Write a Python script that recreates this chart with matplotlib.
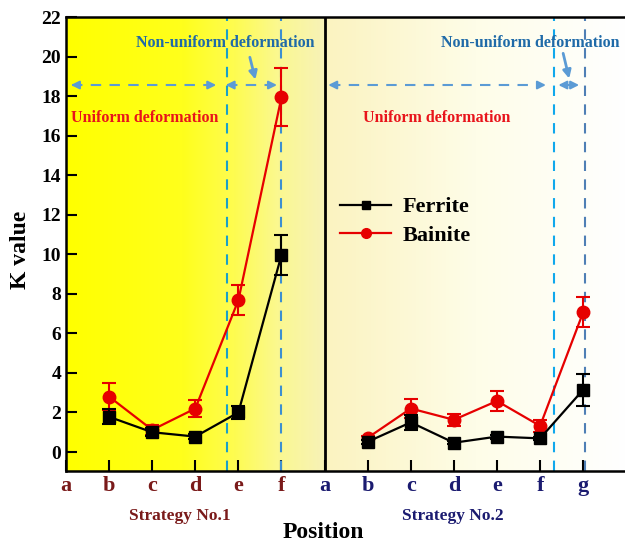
import numpy as np
import matplotlib
matplotlib.use('Agg')
import matplotlib.pyplot as plt
from matplotlib.colors import LinearSegmentedColormap
from matplotlib.lines import Line2D

plt.rcParams['font.family'] = ['Liberation Serif', 'DejaVu Serif']
plt.rcParams['font.weight'] = 'bold'

# data
tick_labels = ['a', 'b', 'c', 'd', 'e', 'f', 'a', 'b', 'c', 'd', 'e', 'f', 'g']
x1 = [1, 2, 3, 4, 5]
x2 = [7, 8, 9, 10, 11, 12]
ferrite1 = [1.78, 1.0, 0.78, 2.0, 9.97]
ferrite1_err = [0.38, 0.2, 0.12, 0.35, 1.0]
bainite1 = [2.8, 1.12, 2.2, 7.68, 17.95]
bainite1_err = [0.68, 0.25, 0.42, 0.77, 1.45]
ferrite2 = [0.52, 1.5, 0.47, 0.78, 0.69, 3.15]
ferrite2_err = [0.1, 0.38, 0.08, 0.1, 0.08, 0.8]
bainite2 = [0.72, 2.2, 1.63, 2.58, 1.32, 7.07]
bainite2_err = [0.1, 0.5, 0.3, 0.52, 0.3, 0.75]

fig = plt.figure(figsize=(6.25, 5.45), dpi=100)
ax = fig.add_axes([66/625, 74/545, 559/625, 454/545])

# background gradients
cm1 = LinearSegmentedColormap.from_list('g1', [(0, '#ffff00'), (0.45, '#ffff1c'), (0.65, '#fefc50'),
                                               (0.82, '#fbf890'), (1, '#f7f2b8')])
cm2 = LinearSegmentedColormap.from_list('g2', [(0, '#fbf3c0'), (0.5, '#fefde8'), (1, '#ffffff')])
grad = np.linspace(0, 1, 256).reshape(1, -1)
ax.imshow(grad, cmap=cm1, extent=[0, 6, -0.96, 22], aspect='auto', zorder=0)
ax.imshow(grad, cmap=cm2, extent=[6, 12.97, -0.96, 22], aspect='auto', zorder=0)
ax.set_xlim(0, 12.97)
ax.set_ylim(-0.96, 22)

# divider
ax.axvline(6, color='black', lw=2, zorder=3)

# vertical dashed lines
ax.axvline(3.73, color='#1aa0c8', lw=1.5, ls=(0, (5, 4)), zorder=2)
ax.axvline(5.0, color='#3d8fd0', lw=1.5, ls=(0, (5, 4)), zorder=2)
ax.axvline(11.32, color='#10a8ec', lw=1.5, ls=(0, (5, 4)), zorder=2)
ax.axvline(12.05, color='#4f7fb5', lw=1.5, ls=(0, (5, 4)), zorder=2)

# horizontal double arrows
arrow_c = '#5b9bd5'
ya = 18.56
for xa, xb in [(0.05, 3.55), (3.64, 4.96), (6.02, 11.2), (11.36, 11.97)]:
    ax.plot([xa + 0.1, xb - 0.1], [ya, ya], color=arrow_c, lw=1.5, ls=(0, (5, 4)), zorder=2)
    ax.annotate('', xy=(xa, ya), xytext=(xa + 0.25, ya),
                arrowprops=dict(arrowstyle='-|>', color=arrow_c, lw=1.5, mutation_scale=12), zorder=2)
    ax.annotate('', xy=(xb, ya), xytext=(xb - 0.25, ya),
                arrowprops=dict(arrowstyle='-|>', color=arrow_c, lw=1.5, mutation_scale=12), zorder=2)

# pointer arrows
ax.annotate('', xy=(4.41, 18.7), xytext=(4.25, 20.1),
            arrowprops=dict(arrowstyle='-|>', color=arrow_c, lw=2, mutation_scale=12))
ax.annotate('', xy=(11.69, 18.75), xytext=(11.52, 20.3),
            arrowprops=dict(arrowstyle='-|>', color=arrow_c, lw=2, mutation_scale=12))

# annotations
ax.text(3.69, 20.68, 'Non-uniform deformation', color='#1f6aa8', fontsize=11.5,
        fontweight='bold', ha='center', va='center', zorder=4)
ax.text(10.77, 20.68, 'Non-uniform deformation', color='#1f6aa8', fontsize=11.5,
        fontweight='bold', ha='center', va='center', zorder=4)
ax.text(1.83, 16.9, 'Uniform deformation', color='#e8141b', fontsize=11.5,
        fontweight='bold', ha='center', va='center', zorder=4)
ax.text(8.61, 16.9, 'Uniform deformation', color='#e8141b', fontsize=11.5,
        fontweight='bold', ha='center', va='center', zorder=4)

# series
red = '#e60000'
for xs, f, fe, b, be in [(x1, ferrite1, ferrite1_err, bainite1, bainite1_err),
                         (x2, ferrite2, ferrite2_err, bainite2, bainite2_err)]:
    ax.errorbar(xs, b, yerr=be, color=red, marker='o', ms=9, lw=1.6, capsize=5,
                capthick=1.5, elinewidth=1.5, zorder=5)
    ax.errorbar(xs, f, yerr=fe, color='black', marker='s', ms=8, lw=1.6, capsize=5,
                capthick=1.5, elinewidth=1.5, zorder=6)

handles = [Line2D([], [], color='black', marker='s', ms=6, lw=1.6),
           Line2D([], [], color=red, marker='o', ms=7, lw=1.6)]
ax.legend(handles, ['Ferrite', 'Bainite'], loc='upper left', bbox_to_anchor=(0.455, 0.648),
          frameon=False, prop=dict(family='Liberation Serif', weight='bold', size=16),
          handlelength=2.3, labelspacing=0.35, handletextpad=0.5)

# axes styling
ax.set_xticks(range(13))
ax.set_xticklabels(tick_labels)
for i, t in enumerate(ax.get_xticklabels()):
    t.set_color('#7a1a1a' if i < 6 else '#1b1b70')
    t.set_fontsize(16)
    t.set_fontweight('bold')
ax.set_yticks(range(0, 23, 2))
ax.tick_params(axis='both', direction='in', length=8, width=1.5)
ax.tick_params(axis='y', labelsize=14)
for t in ax.get_yticklabels():
    t.set_fontweight('bold')
ax.spines['right'].set_visible(False)
for s in ['left', 'top', 'bottom']:
    ax.spines[s].set_linewidth(1.8)

ax.text(2.65, -3.25, 'Strategy No.1', color='#7a1a1a', fontsize=12.5, fontweight='bold',
        ha='center', va='center', clip_on=False)
ax.text(8.98, -3.25, 'Strategy No.2', color='#1b1b70', fontsize=12.5, fontweight='bold',
        ha='center', va='center', clip_on=False)
fig.text(323/625, 1 - 533/545, 'Position', fontsize=17, fontweight='bold', ha='center', va='center')
fig.text(20/625, 1 - 250/545, 'K value', fontsize=17, fontweight='bold', ha='center', va='center',
         rotation=90)

fig.savefig('out.png', dpi=100)
